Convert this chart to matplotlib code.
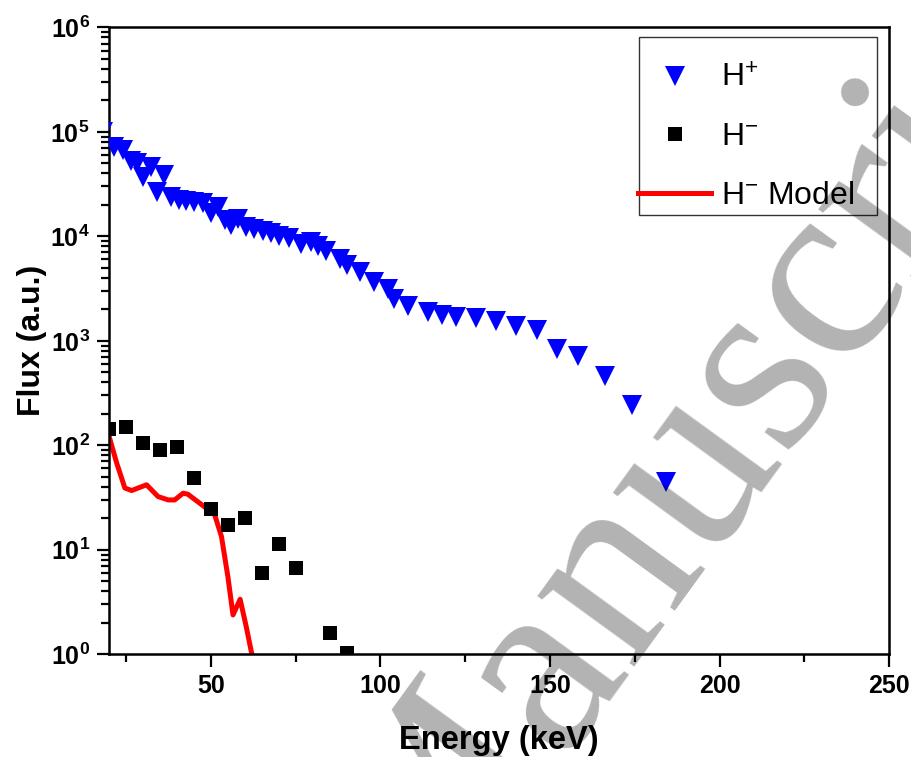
import numpy as np
import matplotlib
matplotlib.use("Agg")
import matplotlib.pyplot as plt
from matplotlib.patches import Rectangle
from matplotlib.ticker import FixedLocator, LogLocator, FuncFormatter, NullFormatter

plt.rcParams["font.family"] = ["Liberation Sans", "DejaVu Sans"]
plt.rcParams["mathtext.fontset"] = "custom"
plt.rcParams["mathtext.rm"] = "Liberation Sans"
plt.rcParams["mathtext.bf"] = "Liberation Sans:bold"

# H+ flux (blue down triangles)
hp_energy = [18.3, 21.3, 24.2, 26.3, 28.3, 30.1, 32.2, 34.2, 36.1, 38.1, 40.5, 42.6,
             45.0, 47.6, 50.0, 52.0, 54.0, 56.0, 58.0, 60.3, 62.8, 65.3, 67.7, 70.2,
             73.1, 76.6, 79.5, 81.5, 84.0, 88.2, 90.2, 94.1, 98.1, 102.2, 104.0, 108.2,
             114.0, 118.0, 122.2, 128.1, 134.1, 140.0, 146.1, 152.2, 158.2, 166.2,
             174.2, 184.1]
hp_flux = [100000, 71800, 66400, 53000, 50000, 37000, 46000, 26500, 39000, 23800,
           22500, 22000, 21500, 21000, 16700, 19000, 14200, 12700, 14500, 12250,
           11800, 11350, 10700, 10150, 9600, 8400, 8800, 8150, 7300, 6100, 5300,
           4530, 3680, 3110, 2500, 2160, 1890, 1750, 1680, 1640, 1550, 1400, 1260,
           827, 717, 460, 245, 45]

# H- flux (black squares)
hm_energy = [20, 25, 30, 35, 40, 45, 50, 55, 60, 65, 70, 75, 85, 90]
hm_flux = [143, 151, 105, 91, 96, 48.5, 24.5, 17.1, 20.1, 6.0, 11.4, 6.7, 1.59, 1.02]

# H- model (red line)
model_energy = [20.0, 22.2, 24.6, 26.6, 31.0, 34.4, 37.4, 39.3, 41.8, 43.2, 46.7,
                51.1, 53.1, 55.0, 56.5, 58.6, 60.4, 61.9, 63.5]
model_flux = [120, 67.5, 39, 36.9, 41.9, 32.3, 30, 30, 34.8, 34, 27.9, 21.6, 13.4,
              5.5, 2.38, 3.36, 1.84, 1.06, 0.7]

fig = plt.figure(figsize=(9.12, 7.57), dpi=100)
ax = fig.add_axes([0.1198, 0.1357, 0.855, 0.8282])

ax.plot(hp_energy, hp_flux, "v", color="#0000ff", markersize=14, markeredgewidth=0,
        label=r"$\mathregular{H^{+}}$", zorder=3)
ax.plot(hm_energy, hm_flux, "s", color="black", markersize=10, markeredgewidth=0,
        label=r"$\mathregular{H^{-}}$", zorder=3)
ax.plot(model_energy, model_flux, "-", color="#ff0000", linewidth=3.6,
        label=r"$\mathregular{H^{-}}$ Model", zorder=2)

ax.set_yscale("log")
ax.set_xlim(20, 250)
ax.set_ylim(1, 1e6)

ax.xaxis.set_major_locator(FixedLocator([50, 100, 150, 200, 250]))
ax.xaxis.set_minor_locator(FixedLocator([25, 75, 125, 175, 225]))
ax.yaxis.set_major_locator(LogLocator(base=10, numticks=10))
ax.yaxis.set_minor_locator(LogLocator(base=10, subs=np.arange(2, 10), numticks=20))
ax.yaxis.set_major_formatter(FuncFormatter(lambda v, p: r"$\mathbf{10^{%d}}$" % round(np.log10(v))))
ax.yaxis.set_minor_formatter(NullFormatter())

ax.tick_params(which="major", direction="out", length=9, width=1.6, labelsize=18, pad=5)
ax.tick_params(which="minor", direction="out", length=5.5, width=1.6)
for lab in ax.get_xticklabels():
    lab.set_fontweight("bold")
for sp in ax.spines.values():
    sp.set_linewidth(1.8)

ax.set_xlabel("Energy (keV)", fontsize=23.5, fontweight="bold", labelpad=20)
ax.set_ylabel("Flux (a.u.)", fontsize=23, fontweight="bold", labelpad=2)

# legend: frameless entries plus a separate box, so the line handle can poke out
leg = ax.legend(loc="upper left", bbox_to_anchor=(0.678, 0.942), fontsize=23,
                frameon=False, handlelength=2.3, handletextpad=0.3,
                labelspacing=0.9, borderpad=0, borderaxespad=0)
ax.add_patch(Rectangle((0.6794, 0.7006), 0.3052, 0.2839, transform=ax.transAxes,
                       fill=False, edgecolor="#333333", linewidth=1.0, zorder=1))

fig.text(0.465, -0.25, "Manuscript", family="Liberation Serif", fontsize=188,
         color="black", alpha=0.3, rotation=54, rotation_mode="anchor",
         ha="left", va="baseline", zorder=10)

plt.savefig("out.png", dpi=100)
